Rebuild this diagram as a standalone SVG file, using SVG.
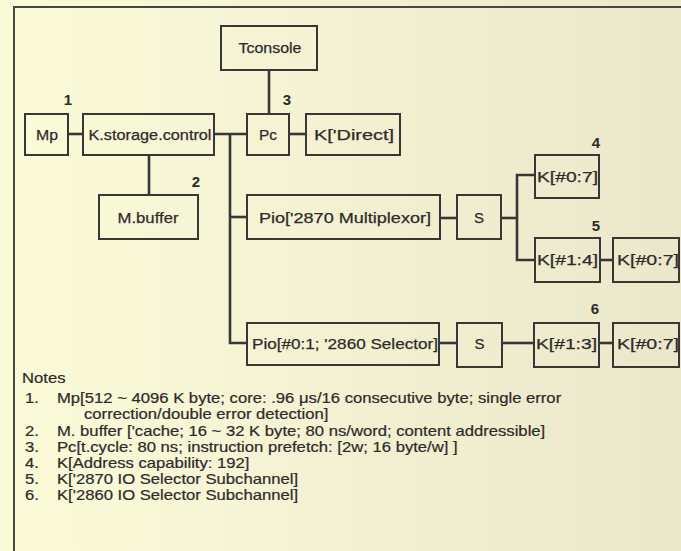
<svg xmlns="http://www.w3.org/2000/svg" width="681" height="551" viewBox="0 0 681 551">
<defs>
<linearGradient id="bg" x1="0" y1="0" x2="1" y2="0">
<stop offset="0" stop-color="#fbfbd9"/>
<stop offset="1" stop-color="#ebe7cb"/>
</linearGradient>
<style>
.box{fill:none;stroke:#3b3636;stroke-width:2}
.c{fill:none;stroke:#3b3636;stroke-width:2.6}
.t{font-family:"Liberation Sans",Arial,sans-serif;font-size:15px;fill:#2e2a2a;stroke:#2e2a2a;stroke-width:0.25}
.m{text-anchor:middle}
.n{font-family:"Liberation Sans",Arial,sans-serif;font-size:15px;fill:#2e2a2a;font-weight:bold;text-anchor:middle}
.nt{font-family:"Liberation Sans",Arial,sans-serif;font-size:14px;fill:#2e2a2a;stroke:#2e2a2a;stroke-width:0.2}
</style>
</defs>
<rect width="681" height="551" fill="url(#bg)"/>
<path d="M14,551 V7 H681" fill="none" stroke="#4a4545" stroke-width="2"/>
<g id="connectors">
<path class="c" d="M68,134 H83"/>
<path class="c" d="M214,134 H247"/>
<path class="c" d="M269,70 V114"/>
<path class="c" d="M289,134 H306"/>
<path class="c" d="M149,155 V195"/>
<path class="c" d="M230,134 V343 H247"/>
<path class="c" d="M230,217 H247"/>
<path class="c" d="M440,218 H457"/>
<path class="c" d="M501,218 H517"/>
<path class="c" d="M535,175 H517 V260 H535"/>
<path class="c" d="M600,260 H613"/>
<path class="c" d="M439,343 H457"/>
<path class="c" d="M502,343 H534"/>
<path class="c" d="M599,343 H613"/>
</g>
<g id="tconsole"><rect class="box" x="221" y="26" width="96" height="44"/><text class="t m" x="270" y="53" textLength="63" lengthAdjust="spacingAndGlyphs">Tconsole</text></g>
<g id="mp"><rect class="box" x="25" y="114" width="43" height="41"/><text class="t m" x="47" y="140" textLength="22" lengthAdjust="spacingAndGlyphs">Mp</text><text class="n" x="68" y="105">1</text></g>
<g id="kstorage"><rect class="box" x="83" y="114" width="131" height="41"/><text class="t m" x="150" y="140" textLength="123" lengthAdjust="spacingAndGlyphs">K.storage.control</text></g>
<g id="pc"><rect class="box" x="247" y="114" width="42" height="41"/><text class="t m" x="268" y="140" textLength="18" lengthAdjust="spacingAndGlyphs">Pc</text><text class="n" x="287" y="105">3</text></g>
<g id="kdirect"><rect class="box" x="306" y="114" width="94" height="41"/><text class="t" x="314" y="140" textLength="80" lengthAdjust="spacingAndGlyphs">K['Direct]</text></g>
<g id="mbuffer"><rect class="box" x="99" y="195" width="99" height="44"/><text class="t m" x="148" y="223" textLength="61" lengthAdjust="spacingAndGlyphs">M.buffer</text><text class="n" x="196" y="187">2</text></g>
<g id="pio1"><rect class="box" x="247" y="195" width="193" height="44"/><text class="t m" x="345" y="223" textLength="172" lengthAdjust="spacingAndGlyphs">Pio['2870 Multiplexor]</text></g>
<g id="s1"><rect class="box" x="457" y="195" width="44" height="44"/><text class="t m" x="479" y="223">S</text></g>
<g id="k4"><rect class="box" x="535" y="155" width="64" height="43"/><text class="t" x="537" y="182" textLength="61" lengthAdjust="spacingAndGlyphs">K[#0:7]</text><text class="n" x="596" y="148">4</text></g>
<g id="k5"><rect class="box" x="535" y="238" width="65" height="44"/><text class="t" x="537" y="265" textLength="61" lengthAdjust="spacingAndGlyphs">K[#1:4]</text><text class="n" x="596" y="231">5</text></g>
<g id="k5b"><rect class="box" x="613" y="238" width="66" height="44"/><text class="t" x="617" y="265" textLength="62" lengthAdjust="spacingAndGlyphs">K[#0:7]</text></g>
<g id="pio2"><rect class="box" x="247" y="323" width="192" height="42"/><text class="t" x="252" y="349" textLength="186" lengthAdjust="spacingAndGlyphs">Pio[#0:1; '2860 Selector]</text></g>
<g id="s2"><rect class="box" x="457" y="323" width="45" height="44"/><text class="t m" x="479.5" y="349">S</text></g>
<g id="k6"><rect class="box" x="534" y="323" width="65" height="44"/><text class="t" x="536" y="349" textLength="61" lengthAdjust="spacingAndGlyphs">K[#1:3]</text><text class="n" x="595" y="314">6</text></g>
<g id="k6b"><rect class="box" x="613" y="323" width="66" height="44"/><text class="t" x="617" y="349" textLength="62" lengthAdjust="spacingAndGlyphs">K[#0:7]</text></g>
<g id="notes" transform="scale(1.19,1)">
<text class="nt" x="18.5" y="383">Notes</text>
<text class="nt" x="21" y="403">1.</text><text class="nt" x="47.9" y="403">Mp[512 ~ 4096 K byte; core:  .96 μs/16 consecutive byte; single error</text>
<text class="nt" x="70.6" y="419">correction/double error detection]</text>
<text class="nt" x="21" y="436">2.</text><text class="nt" x="47.9" y="436">M. buffer ['cache; 16 ~ 32 K byte; 80 ns/word; content addressible]</text>
<text class="nt" x="21" y="452">3.</text><text class="nt" x="47.9" y="452">Pc[t.cycle: 80 ns; instruction prefetch: [2w; 16 byte/w] ]</text>
<text class="nt" x="21" y="468">4.</text><text class="nt" x="47.9" y="468">K[Address capability: 192]</text>
<text class="nt" x="21" y="484">5.</text><text class="nt" x="47.9" y="484">K['2870 IO Selector Subchannel]</text>
<text class="nt" x="21" y="500">6.</text><text class="nt" x="47.9" y="500">K['2860 IO Selector Subchannel]</text>
</g>
</svg>
